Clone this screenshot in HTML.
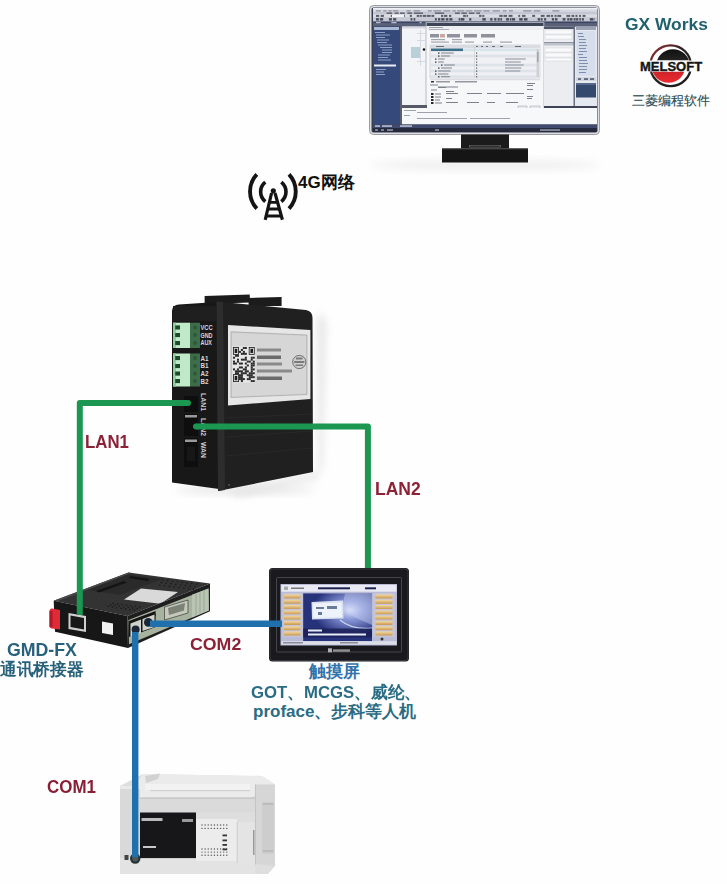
<!DOCTYPE html>
<html><head><meta charset="utf-8">
<style>
html,body{margin:0;padding:0;}
body{width:727px;height:884px;position:relative;overflow:hidden;background:#fefefe;font-family:"Liberation Sans",sans-serif;}
.a{position:absolute;}
.t{position:absolute;white-space:nowrap;font-weight:bold;line-height:1;transform-origin:0 0;}
</style></head><body>
<svg class="a" style="left:0;top:0" width="727" height="884" viewBox="0 0 727 884">
<defs>
  <linearGradient id="redG" x1="0" y1="0" x2="0" y2="1">
    <stop offset="0" stop-color="#8a1a1e"/><stop offset="1" stop-color="#ee2a30"/>
  </linearGradient>
  <linearGradient id="blkG" x1="0" y1="0" x2="0" y2="1">
    <stop offset="0" stop-color="#101010"/><stop offset="1" stop-color="#4a4a4a"/>
  </linearGradient>
  <linearGradient id="shadowG" x1="0" y1="0" x2="0" y2="1">
    <stop offset="0" stop-color="#e6e6e6"/><stop offset="1" stop-color="#fdfdfd"/>
  </linearGradient>
  <filter id="soft" x="-5%" y="-5%" width="110%" height="110%"><feGaussianBlur stdDeviation="0.45"/></filter>
  <filter id="shBlur" x="-50%" y="-50%" width="200%" height="200%"><feGaussianBlur stdDeviation="4"/></filter>
</defs>
<g id="monitor">
  <!-- soft shadow under base -->
  <ellipse cx="485" cy="165" rx="115" ry="5" fill="#eeeeee" filter="url(#shBlur)"/>
  <!-- bezel -->
  <rect x="369.5" y="5.5" width="230" height="129" rx="4" fill="#dcdde0" stroke="#9a9ca2" stroke-width="1"/>
  <rect x="371.5" y="7.5" width="226" height="125" rx="2" fill="#3a3f50"/>
  <g filter="url(#soft)"><!-- screen -->
<rect x="373" y="8" width="224" height="16" fill="#c9ccd6"/><rect x="373" y="8" width="224" height="1.8" fill="#eef0f4"/><rect x="373" y="9.8" width="224" height="2.2" fill="#d3d6de"/><g fill="#8a8e9a"><rect x="376.0" y="10.3" width="4.9" height="1.2"/><rect x="383.2" y="10.3" width="3.4" height="1.2"/><rect x="388.4" y="10.3" width="3.3" height="1.2"/><rect x="392.8" y="10.3" width="5.6" height="1.2"/><rect x="406.4" y="10.3" width="4.3" height="1.2"/><rect x="413.6" y="10.3" width="6.5" height="1.2"/><rect x="427.9" y="10.3" width="3.9" height="1.2"/><rect x="433.4" y="10.3" width="7.9" height="1.2"/><rect x="443.5" y="10.3" width="6.8" height="1.2"/><rect x="452.4" y="10.3" width="3.4" height="1.2"/><rect x="457.2" y="10.3" width="7.1" height="1.2"/><rect x="465.9" y="10.3" width="6.5" height="1.2"/><rect x="474.0" y="10.3" width="7.8" height="1.2"/><rect x="483.3" y="10.3" width="6.4" height="1.2"/><rect x="492.5" y="10.3" width="7.4" height="1.2"/><rect x="502.8" y="10.3" width="3.7" height="1.2"/><rect x="509.0" y="10.3" width="3.9" height="1.2"/><rect x="523.2" y="10.3" width="8.3" height="1.2"/><rect x="533.8" y="10.3" width="6.6" height="1.2"/><rect x="552.3" y="10.3" width="7.0" height="1.2"/></g><rect x="373" y="12" width="224" height="2.3" fill="#c4c7d1"/><g fill="#50545e"><rect x="386.5" y="12.5" width="5.7" height="1.3"/><rect x="394.6" y="12.5" width="4.1" height="1.3"/><rect x="400.0" y="12.5" width="4.7" height="1.3"/><rect x="407.3" y="12.5" width="4.8" height="1.3"/><rect x="413.8" y="12.5" width="9.2" height="1.3"/><rect x="434.9" y="12.5" width="9.2" height="1.3"/><rect x="455.0" y="12.5" width="4.9" height="1.3"/><rect x="461.4" y="12.5" width="5.4" height="1.3"/><rect x="468.9" y="12.5" width="5.6" height="1.3"/><rect x="476.3" y="12.5" width="3.7" height="1.3"/></g><rect x="373" y="14.3" width="224" height="3.1" fill="#d9dce3"/><g fill="#5a5e6a"><rect x="376.0" y="14.9" width="3.2" height="2"/><rect x="380.7" y="14.9" width="3.2" height="2"/><rect x="390.8" y="14.9" width="2.5" height="2"/><rect x="394.0" y="14.9" width="3.1" height="2"/><rect x="397.7" y="14.9" width="2.0" height="2"/><rect x="400.7" y="14.9" width="1.6" height="2"/><rect x="403.1" y="14.9" width="1.8" height="2"/><rect x="409.8" y="14.9" width="2.1" height="2"/><rect x="416.7" y="14.9" width="2.7" height="2"/><rect x="420.0" y="14.9" width="1.8" height="2"/><rect x="422.7" y="14.9" width="3.6" height="2"/><rect x="426.8" y="14.9" width="3.9" height="2"/><rect x="431.4" y="14.9" width="2.9" height="2"/><rect x="441.0" y="14.9" width="2.2" height="2"/><rect x="443.9" y="14.9" width="3.4" height="2"/><rect x="449.0" y="14.9" width="2.3" height="2"/><rect x="463.1" y="14.9" width="2.8" height="2"/><rect x="466.5" y="14.9" width="1.6" height="2"/><rect x="479.1" y="14.9" width="2.4" height="2"/><rect x="482.3" y="14.9" width="2.0" height="2"/><rect x="499.3" y="14.9" width="3.4" height="2"/><rect x="503.5" y="14.9" width="3.5" height="2"/><rect x="508.6" y="14.9" width="3.9" height="2"/><rect x="518.3" y="14.9" width="1.8" height="2"/><rect x="522.0" y="14.9" width="3.5" height="2"/><rect x="532.2" y="14.9" width="2.9" height="2"/><rect x="540.8" y="14.9" width="3.8" height="2"/><rect x="546.5" y="14.9" width="3.6" height="2"/><rect x="550.9" y="14.9" width="2.2" height="2"/><rect x="554.5" y="14.9" width="2.1" height="2"/><rect x="557.4" y="14.9" width="3.8" height="2"/><rect x="566.4" y="14.9" width="3.8" height="2"/><rect x="571.5" y="14.9" width="2.8" height="2"/><rect x="575.5" y="14.9" width="2.0" height="2"/><rect x="579.1" y="14.9" width="1.9" height="2"/><rect x="582.6" y="14.9" width="2.9" height="2"/></g><rect x="392" y="14.6" width="12" height="2.4" fill="#f4f5f8"/><rect x="373" y="17.4" width="224" height="4" fill="#c6c9d4"/><g fill="#4a4e5c"><rect x="376.0" y="18.1" width="2.9" height="2.5"/><rect x="379.8" y="18.1" width="3.4" height="2.5"/><rect x="388.9" y="18.1" width="3.0" height="2.5"/><rect x="393.1" y="18.1" width="3.2" height="2.5"/><rect x="410.6" y="18.1" width="1.8" height="2.5"/><rect x="413.6" y="18.1" width="1.7" height="2.5"/><rect x="434.9" y="18.1" width="1.9" height="2.5"/><rect x="438.0" y="18.1" width="2.3" height="2.5"/><rect x="441.2" y="18.1" width="3.3" height="2.5"/><rect x="445.8" y="18.1" width="2.6" height="2.5"/><rect x="449.3" y="18.1" width="3.1" height="2.5"/><rect x="458.7" y="18.1" width="1.8" height="2.5"/><rect x="461.0" y="18.1" width="3.4" height="2.5"/><rect x="469.2" y="18.1" width="2.1" height="2.5"/><rect x="482.3" y="18.1" width="3.5" height="2.5"/><rect x="490.2" y="18.1" width="2.3" height="2.5"/><rect x="494.2" y="18.1" width="2.2" height="2.5"/><rect x="497.6" y="18.1" width="2.1" height="2.5"/><rect x="500.4" y="18.1" width="1.6" height="2.5"/><rect x="506.1" y="18.1" width="2.8" height="2.5"/><rect x="509.8" y="18.1" width="1.5" height="2.5"/><rect x="511.8" y="18.1" width="3.3" height="2.5"/><rect x="519.2" y="18.1" width="3.5" height="2.5"/><rect x="523.9" y="18.1" width="3.6" height="2.5"/><rect x="537.7" y="18.1" width="2.5" height="2.5"/><rect x="540.8" y="18.1" width="1.8" height="2.5"/><rect x="544.1" y="18.1" width="2.1" height="2.5"/><rect x="551.8" y="18.1" width="2.2" height="2.5"/><rect x="554.9" y="18.1" width="2.6" height="2.5"/><rect x="562.6" y="18.1" width="2.9" height="2.5"/><rect x="567.2" y="18.1" width="2.3" height="2.5"/><rect x="570.0" y="18.1" width="2.5" height="2.5"/><rect x="573.6" y="18.1" width="2.0" height="2.5"/><rect x="576.1" y="18.1" width="2.2" height="2.5"/><rect x="579.3" y="18.1" width="1.6" height="2.5"/><rect x="581.8" y="18.1" width="2.1" height="2.5"/><rect x="589.8" y="18.1" width="3.7" height="2.5"/><rect x="594.5" y="18.1" width="0.5" height="2.5"/></g><rect x="373" y="21.4" width="224" height="2.4" fill="#3e4462"/><g fill="#b4bad0"><rect x="376.0" y="21.9" width="4.6" height="1.4"/><rect x="391.3" y="21.9" width="5.2" height="1.4"/><rect x="419.5" y="21.9" width="2.1" height="1.4"/><rect x="434.7" y="21.9" width="4.0" height="1.4"/><rect x="448.4" y="21.9" width="4.6" height="1.4"/><rect x="455.5" y="21.9" width="3.0" height="1.4"/><rect x="460.0" y="21.9" width="4.9" height="1.4"/><rect x="467.4" y="21.9" width="2.6" height="1.4"/></g><rect x="373" y="23.8" width="224" height="2.7" fill="#5a6078"/>
  <!-- nav panel -->
  <rect x="373" y="26.5" width="27" height="98" fill="#34497a"/>
  <rect x="374" y="27" width="25" height="3" fill="#a9b9d6"/>
  <g fill="#8ea0c4">
    <rect x="375" y="32" width="10" height="1"/><rect x="376" y="34.5" width="14" height="1"/><rect x="376" y="37" width="9" height="1"/>
    <rect x="377" y="39.5" width="12" height="1"/><rect x="377" y="42" width="10" height="1"/><rect x="378" y="44.5" width="14" height="1"/>
    <rect x="380" y="47" width="12" height="1"/><rect x="382" y="49.5" width="10" height="1"/><rect x="382" y="52" width="10" height="1"/>
    <rect x="378" y="54.5" width="12" height="1"/><rect x="378" y="57" width="10" height="1"/><rect x="378" y="59.5" width="13" height="1"/>
    <rect x="376" y="69" width="10" height="1"/><rect x="376" y="71.5" width="8" height="1"/><rect x="376" y="74" width="9" height="1"/>
  </g>
  <rect x="374" y="64.5" width="22" height="2" fill="#e8edf6"/>
  <rect x="400" y="26.5" width="2" height="98" fill="#5a5f70"/>
  <!-- workspace -->
  <rect x="402" y="26.5" width="25" height="80" fill="#f3f4f7"/>
  <rect x="402" y="26.5" width="25" height="2" fill="#d5d8e0"/>
  <rect x="411" y="47" width="9" height="11" fill="#b9cfd9"/>
  <circle cx="424" cy="49.5" r="1.3" fill="#111"/>
  <g fill="#cfd2da"><rect x="420" y="30" width="0.8" height="36"/><rect x="417" y="33" width="8" height="0.8"/><rect x="417" y="40" width="8" height="0.8"/><rect x="417" y="61" width="8" height="0.8"/></g>
  <!-- dialog -->
  <rect x="426" y="22.5" width="118" height="88" fill="#f6f7f9" stroke="#a8adb6" stroke-width="0.8"/>
  <rect x="426.5" y="23" width="117" height="3" fill="#3e4456"/>
  <rect x="427" y="26" width="116" height="4" fill="#eceef2"/>
  <g fill="#9a9ea8"><rect x="429" y="27" width="14" height="1"/><rect x="429" y="29" width="20" height="0.8"/></g>
  <!-- toolbar buttons -->
  <g fill="#8f929a">
    <rect x="430" y="34" width="9" height="3.5"/><rect x="447" y="34" width="13" height="3.5"/><rect x="464" y="34" width="13" height="3.5"/><rect x="481" y="34" width="14" height="3.5"/>
  </g>
  <g fill="#c9a9a0"><rect x="440" y="34" width="5" height="3.5"/></g>
  <g fill="#a0a4ac">
    <rect x="431" y="39" width="14" height="1.2"/><rect x="452" y="39" width="10" height="1.2"/>
    <rect x="431" y="41.5" width="18" height="1.2"/><rect x="452" y="41.5" width="10" height="1.2"/><rect x="465" y="41.5" width="9" height="1.2"/><rect x="483" y="41.5" width="9" height="1.2"/><rect x="500" y="41.5" width="12" height="1.2"/>
  </g>
  <!-- table -->
  <rect x="430" y="45" width="110" height="33" fill="#f0f1f4" stroke="#b8bcc4" stroke-width="0.5"/>
  <rect x="430" y="45" width="110" height="3" fill="#d9dce3"/>
  <g fill="#6a6e78"><rect x="436" y="46" width="8" height="1"/><rect x="476" y="46" width="2" height="1"/><rect x="481" y="46" width="2" height="1"/><rect x="486" y="46" width="2" height="1"/><rect x="492" y="46" width="3" height="1"/><rect x="500" y="46" width="3" height="1"/><rect x="515" y="46" width="6" height="1"/></g>
  <rect x="431" y="48.5" width="32" height="2.6" fill="#3b6d88"/>
  <rect x="463" y="48.5" width="75" height="2.6" fill="#d8e4ea"/>
  <rect x="438" y="52.5" width="1.5" height="1.2" fill="#333"/>
  <rect x="441" y="52.5" width="12.8" height="1" fill="#7d818b"/>
  <rect x="476" y="52.5" width="1.2" height="1.2" fill="#555"/>
  <rect x="431" y="54.6" width="107" height="2.8" fill="#dfe3ea"/>
  <rect x="438" y="55.5" width="1.5" height="1.2" fill="#333"/>
  <rect x="441" y="55.5" width="9.1" height="1" fill="#7d818b"/>
  <rect x="476" y="55.5" width="1.2" height="1.2" fill="#555"/>
  <rect x="435" y="58.5" width="1.5" height="1.2" fill="#333"/>
  <rect x="438" y="58.5" width="6.7" height="1" fill="#7d818b"/>
  <rect x="476" y="58.5" width="1.2" height="1.2" fill="#555"/>
  <rect x="505" y="58.5" width="20.7" height="1" fill="#8a8e98"/>
  <rect x="435" y="61.5" width="1.5" height="1.2" fill="#333"/>
  <rect x="438" y="61.5" width="5.8" height="1" fill="#7d818b"/>
  <rect x="476" y="61.5" width="1.2" height="1.2" fill="#555"/>
  <rect x="505" y="61.5" width="15.8" height="1" fill="#8a8e98"/>
  <rect x="431" y="63.6" width="107" height="2.8" fill="#dfe3ea"/>
  <rect x="441" y="64.5" width="1.5" height="1.2" fill="#333"/>
  <rect x="444" y="64.5" width="10.7" height="1" fill="#7d818b"/>
  <rect x="476" y="64.5" width="1.2" height="1.2" fill="#555"/>
  <rect x="505" y="64.5" width="18.6" height="1" fill="#8a8e98"/>
  <rect x="438" y="67.5" width="1.5" height="1.2" fill="#333"/>
  <rect x="441" y="67.5" width="10.9" height="1" fill="#7d818b"/>
  <rect x="476" y="67.5" width="1.2" height="1.2" fill="#555"/>
  <rect x="505" y="67.5" width="16.4" height="1" fill="#8a8e98"/>
  <rect x="431" y="69.6" width="107" height="2.8" fill="#dfe3ea"/>
  <rect x="435" y="70.5" width="1.5" height="1.2" fill="#333"/>
  <rect x="438" y="70.5" width="12.5" height="1" fill="#7d818b"/>
  <rect x="476" y="70.5" width="1.2" height="1.2" fill="#555"/>
  <rect x="505" y="70.5" width="15.3" height="1" fill="#8a8e98"/>
  <rect x="435" y="73.5" width="1.5" height="1.2" fill="#333"/>
  <rect x="438" y="73.5" width="10.4" height="1" fill="#7d818b"/>
  <rect x="476" y="73.5" width="1.2" height="1.2" fill="#555"/>
  <rect x="431" y="75.3" width="107" height="2.8" fill="#dfe3ea"/>
  <rect x="438" y="76.2" width="1.5" height="1.2" fill="#333"/>
  <rect x="441" y="76.2" width="9.0" height="1" fill="#7d818b"/>
  <rect x="476" y="76.2" width="1.2" height="1.2" fill="#555"/>
  <rect x="474" y="45" width="0.6" height="33" fill="#c8ccd3"/>
  <rect x="536.5" y="49" width="2.5" height="28" fill="#cdd0d6"/>
  <rect x="537" y="52" width="1.5" height="10" fill="#9fa3aa"/>
  <!-- lower dialog -->
  <rect x="430" y="79.5" width="110" height="0.6" fill="#c0c4cc"/>
  <g fill="#7d818b"><rect x="431" y="81" width="3" height="1.5" fill="#333"/><rect x="436" y="81.2" width="14" height="1.2"/><rect x="455" y="81.2" width="22" height="1.2"/><rect x="430" y="84.5" width="8" height="1"/><rect x="438" y="86.5" width="8" height="1.5"/><rect x="446" y="86.5" width="12" height="1"/><rect x="431" y="89.5" width="6" height="1"/><rect x="446" y="91" width="8" height="1"/><rect x="446" y="93" width="12" height="1"/><rect x="467" y="93" width="15" height="1"/><rect x="487" y="93" width="14" height="1"/><rect x="506" y="93" width="18" height="1"/><rect x="446" y="98" width="6" height="1"/><rect x="446" y="102" width="12" height="1"/><rect x="467" y="102" width="12" height="1"/><rect x="487" y="102" width="8" height="1"/><rect x="506" y="102" width="12" height="1"/><rect x="527" y="83" width="8" height="1"/><rect x="527" y="85" width="6" height="1"/><rect x="527" y="89" width="6" height="1"/><rect x="527" y="96" width="6" height="1"/><rect x="527" y="98" width="5" height="1"/></g>
  <g fill="#2a2a2a"><rect x="431" y="93" width="2.5" height="2"/><rect x="431" y="96" width="2.5" height="2"/><rect x="431" y="99" width="2.5" height="2"/><rect x="431" y="102" width="2.5" height="2"/></g>
  <g fill="#7d818b"><rect x="435" y="93.5" width="6" height="1"/><rect x="435" y="96.5" width="6" height="1"/><rect x="435" y="99.5" width="5" height="1"/><rect x="435" y="102.5" width="7" height="1"/></g>
  <g fill="#e6e8ec" stroke="#8a8e96" stroke-width="0.4"><rect x="518" y="106" width="9" height="3"/><rect x="530" y="106" width="10" height="3"/></g>
  
  <!-- right panels -->
  <rect x="544" y="26.5" width="30" height="80" fill="#ecedf0"/>
  <rect x="544" y="26.5" width="30" height="2.5" fill="#50566a"/>
  <g fill="#fafafa" stroke="#c9ccd2" stroke-width="0.4"><rect x="545" y="30" width="27" height="4"/><rect x="545" y="35" width="27" height="4"/><rect x="545" y="48" width="27" height="4"/><rect x="545" y="53" width="27" height="4"/><rect x="545" y="58" width="27" height="3"/></g>
  <rect x="544" y="42" width="30" height="1.5" fill="#8f95a2"/>
  <rect x="544" y="44" width="30" height="1.5" fill="#bfc3cc"/>
  <rect x="573.5" y="26.5" width="1.5" height="80" fill="#6a6f80"/>
  <rect x="575" y="26.5" width="22" height="80" fill="#e6e9ef"/>
  <rect x="576" y="27" width="20" height="3" fill="#9aa2b4"/>
  <rect x="576.5" y="31" width="19" height="45" fill="#d6deeb"/>
  <g fill="#7f8eae"><rect x="578" y="33" width="5" height="1"/><rect x="578" y="36" width="6" height="1"/><rect x="579" y="39" width="7" height="1"/><rect x="579" y="42" width="7" height="1"/><rect x="579" y="45" width="8" height="1"/><rect x="579" y="48" width="7" height="1"/><rect x="579" y="51" width="8" height="1"/><rect x="578" y="54" width="5" height="1"/><rect x="579" y="57" width="8" height="1"/><rect x="579" y="60" width="8" height="1"/><rect x="579" y="63" width="9" height="1"/><rect x="579" y="66" width="8" height="1"/><rect x="579" y="69" width="8" height="1"/><rect x="579" y="72" width="7" height="1"/></g>
  <rect x="576" y="77" width="20" height="4" fill="#cfd4de"/>
  <g fill="#4a5068"><rect x="578" y="78.3" width="3" height="1.5"/><rect x="584" y="78.3" width="4" height="1.5"/><rect x="590" y="78.3" width="4" height="1.5"/></g>
  <rect x="576" y="83" width="20" height="14.5" fill="#34486e"/>
  <rect x="576" y="83" width="20" height="2" fill="#56688c"/>
  <rect x="576" y="98" width="20" height="8" fill="#e4e8f0"/>
  <!-- output pane -->
  <rect x="402" y="105" width="25" height="3" fill="#555a66"/>
  <rect x="402" y="108" width="195" height="16.5" fill="#f7f8fa"/>
  <rect x="544" y="106" width="53" height="2" fill="#3d4357"/>
  <g fill="#9ea2ab"><rect x="404" y="110" width="12" height="1"/><rect x="417" y="112" width="30" height="1"/><rect x="404" y="115" width="6" height="1"/><rect x="417" y="118" width="50" height="1"/><rect x="470" y="118" width="40" height="1"/></g>
  <!-- status bars -->
  <rect x="373" y="124.5" width="224" height="3.5" fill="#3f4a6e"/>
  <g fill="#c0c6d6"><rect x="375" y="125.3" width="5" height="1.5"/><rect x="382" y="125.3" width="10" height="1.5"/><rect x="400" y="125.3" width="12" height="1.5"/></g>
  <rect x="373" y="128" width="224" height="4" fill="#262b3e"/>
  <g fill="#9aa0b4"><rect x="375" y="129.3" width="3" height="1.5"/><rect x="381" y="129.3" width="3" height="1.5"/><rect x="387" y="129.3" width="6" height="1.5"/><rect x="435" y="129.3" width="4" height="1.5"/><rect x="540" y="129.3" width="20" height="1.5"/></g>
  </g>
  <!-- stand -->
  <polygon points="461,134.5 509,134.5 509,148.5 461,148.5" fill="#1b1b1b"/>
  <rect x="469" y="145" width="32" height="2.5" rx="1" fill="#6a6a6a"/>
  <rect x="470" y="145.5" width="30" height="1.5" rx="0.7" fill="#2e2e2e"/>
  <polygon points="442,148.5 528,148.5 528,162.5 442,162.5" fill="#151515"/>
  <rect x="442" y="148.5" width="86" height="1" fill="#3a3a3a"/>
</g>
<g id="melsoft">
  <defs>
    <linearGradient id="ringG" x1="0" y1="0" x2="1" y2="1">
      <stop offset="0" stop-color="#a03030"/><stop offset="0.45" stop-color="#2a2020"/><stop offset="1" stop-color="#1a1a1a"/>
    </linearGradient>
    <clipPath id="cTop"><rect x="640" y="40" width="70" height="20.5"/></clipPath>
    <clipPath id="cBot"><rect x="640" y="71.5" width="70" height="20"/></clipPath>
  </defs>
  <circle cx="670.6" cy="65.7" r="20.4" fill="none" stroke="url(#ringG)" stroke-width="2.3"/>
  <circle cx="673" cy="66" r="16.8" fill="url(#blkG)" clip-path="url(#cTop)"/>
  <circle cx="668.5" cy="66" r="16.8" fill="url(#redG)" clip-path="url(#cBot)"/>
  <rect x="646" y="60.5" width="50" height="11" fill="#fdfdfd"/>
</g>
<g id="ant" fill="none" stroke="#141414" stroke-linecap="butt">
  <path d="M256.8,174.4 A25,25 0 0 0 256.8,208.6" stroke-width="3.9"/>
  <path d="M265.3,182.1 A12.5,12.5 0 0 0 265.3,201.6" stroke-width="3.6"/>
  <path d="M289,174.4 A25,25 0 0 1 289,208.6" stroke-width="3.9"/>
  <path d="M281.3,182.1 A12.5,12.5 0 0 1 281.3,201.6" stroke-width="3.6"/>
  <circle cx="273.3" cy="190.8" r="2.6" fill="#141414" stroke="none"/>
  <path d="M271.6,193 L265.2,219.8 M275,193 L282.4,219.8" stroke-width="3.2"/>
  <path d="M268.6,202.4 L278.2,202.4 M267.2,209 L279.8,209 M265.8,216 L281.2,216" stroke-width="2.8"/>
</g>
<g id="gw">
  <polygon points="225,492 313,474 322,470 325,320 318,312 318,478 240,496" fill="#d8d8d8" filter="url(#shBlur)" opacity="0.8"/>
  <ellipse cx="245" cy="490" rx="70" ry="4" fill="#e6e6e6" filter="url(#shBlur)"/>
  <!-- top clips -->
  <polygon points="204.6,296 249.7,294.5 250,302.6 204.6,304" fill="#1c1c1c"/>
  <polygon points="248.6,298 281.6,297 281.6,306 248.6,306" fill="#1c1c1c"/>
  <!-- left narrow part -->
  <path d="M172,311 Q172.5,304.8 179,304.5 L217,302 L219,489 L172,482.5 Z" fill="#181818"/>
  <rect x="173" y="306" width="43" height="15" fill="#1f1f1f"/>
  <!-- front face -->
  <path d="M216.5,301.5 L306,310 Q312.5,311 312.5,318 L313,472 L218,491 Z" fill="#202020"/>
  <polygon points="216.5,301.5 223,302 225,490 218,491" fill="#2d2d2d"/>
  <g stroke="#2b2b2b" stroke-width="0.8">
    <line x1="226" y1="418" x2="312" y2="414"/><line x1="226" y1="437" x2="312" y2="431"/><line x1="226" y1="456" x2="312" y2="448"/>
  </g>
  <circle cx="229" cy="485" r="1" fill="#555"/>
  <!-- label plate -->
  <polygon points="228,325 310.4,330 310.4,399 228,405.4" fill="#e6e6e6"/>
  <polygon points="231,331.8 307,335 307,394.5 231,397.5" fill="#cfcfcf" stroke="#9a9a9a" stroke-width="0.6"/>
  <polygon points="232,333 306,336 306,393.5 232,396.5" fill="#d6d6d6"/>
  <rect x="232.5" y="346.5" width="22.7" height="36" fill="#e8e8e8"/>
<g fill="#2a2a2a"><rect x="242.86" y="347.00" width="2.02" height="1.99"/><rect x="244.84" y="347.00" width="2.02" height="1.99"/><rect x="240.89" y="348.94" width="2.02" height="1.99"/><rect x="238.92" y="350.89" width="2.02" height="1.99"/><rect x="242.86" y="350.89" width="2.02" height="1.99"/><rect x="240.89" y="352.83" width="2.02" height="1.99"/><rect x="242.86" y="352.83" width="2.02" height="1.99"/><rect x="244.84" y="352.83" width="2.02" height="1.99"/><rect x="234.97" y="354.78" width="2.02" height="1.99"/><rect x="236.95" y="354.78" width="2.02" height="1.99"/><rect x="233.00" y="356.72" width="2.02" height="1.99"/><rect x="244.84" y="356.72" width="2.02" height="1.99"/><rect x="250.75" y="356.72" width="2.02" height="1.99"/><rect x="252.73" y="356.72" width="2.02" height="1.99"/><rect x="236.95" y="358.67" width="2.02" height="1.99"/><rect x="240.89" y="358.67" width="2.02" height="1.99"/><rect x="242.86" y="358.67" width="2.02" height="1.99"/><rect x="244.84" y="358.67" width="2.02" height="1.99"/><rect x="250.75" y="358.67" width="2.02" height="1.99"/><rect x="233.00" y="360.61" width="2.02" height="1.99"/><rect x="236.95" y="360.61" width="2.02" height="1.99"/><rect x="246.81" y="360.61" width="2.02" height="1.99"/><rect x="248.78" y="360.61" width="2.02" height="1.99"/><rect x="252.73" y="360.61" width="2.02" height="1.99"/><rect x="233.00" y="362.56" width="2.02" height="1.99"/><rect x="234.97" y="362.56" width="2.02" height="1.99"/><rect x="238.92" y="362.56" width="2.02" height="1.99"/><rect x="240.89" y="362.56" width="2.02" height="1.99"/><rect x="244.84" y="362.56" width="2.02" height="1.99"/><rect x="250.75" y="362.56" width="2.02" height="1.99"/><rect x="252.73" y="362.56" width="2.02" height="1.99"/><rect x="246.81" y="364.50" width="2.02" height="1.99"/><rect x="250.75" y="364.50" width="2.02" height="1.99"/><rect x="252.73" y="364.50" width="2.02" height="1.99"/><rect x="238.92" y="366.44" width="2.02" height="1.99"/><rect x="240.89" y="366.44" width="2.02" height="1.99"/><rect x="244.84" y="366.44" width="2.02" height="1.99"/><rect x="250.75" y="366.44" width="2.02" height="1.99"/><rect x="233.00" y="368.39" width="2.02" height="1.99"/><rect x="236.95" y="368.39" width="2.02" height="1.99"/><rect x="242.86" y="368.39" width="2.02" height="1.99"/><rect x="244.84" y="368.39" width="2.02" height="1.99"/><rect x="250.75" y="368.39" width="2.02" height="1.99"/><rect x="252.73" y="368.39" width="2.02" height="1.99"/><rect x="234.97" y="370.33" width="2.02" height="1.99"/><rect x="236.95" y="370.33" width="2.02" height="1.99"/><rect x="238.92" y="370.33" width="2.02" height="1.99"/><rect x="240.89" y="370.33" width="2.02" height="1.99"/><rect x="244.84" y="370.33" width="2.02" height="1.99"/><rect x="246.81" y="370.33" width="2.02" height="1.99"/><rect x="250.75" y="370.33" width="2.02" height="1.99"/><rect x="234.97" y="372.28" width="2.02" height="1.99"/><rect x="236.95" y="372.28" width="2.02" height="1.99"/><rect x="240.89" y="372.28" width="2.02" height="1.99"/><rect x="242.86" y="372.28" width="2.02" height="1.99"/><rect x="244.84" y="372.28" width="2.02" height="1.99"/><rect x="248.78" y="372.28" width="2.02" height="1.99"/><rect x="250.75" y="372.28" width="2.02" height="1.99"/><rect x="252.73" y="372.28" width="2.02" height="1.99"/><rect x="238.92" y="374.22" width="2.02" height="1.99"/><rect x="240.89" y="374.22" width="2.02" height="1.99"/><rect x="246.81" y="374.22" width="2.02" height="1.99"/><rect x="248.78" y="374.22" width="2.02" height="1.99"/><rect x="250.75" y="374.22" width="2.02" height="1.99"/><rect x="238.92" y="376.17" width="2.02" height="1.99"/><rect x="240.89" y="376.17" width="2.02" height="1.99"/><rect x="248.78" y="376.17" width="2.02" height="1.99"/><rect x="250.75" y="376.17" width="2.02" height="1.99"/><rect x="252.73" y="376.17" width="2.02" height="1.99"/><rect x="238.92" y="378.11" width="2.02" height="1.99"/><rect x="240.89" y="378.11" width="2.02" height="1.99"/><rect x="242.86" y="378.11" width="2.02" height="1.99"/><rect x="246.81" y="378.11" width="2.02" height="1.99"/><rect x="248.78" y="378.11" width="2.02" height="1.99"/><rect x="240.89" y="380.06" width="2.02" height="1.99"/><rect x="250.75" y="380.06" width="2.02" height="1.99"/><rect x="252.73" y="380.06" width="2.02" height="1.99"/></g><rect x="233.00" y="347.00" width="5.92" height="7.78" fill="#1a1a1a"/><rect x="233.80" y="347.80" width="4.32" height="6.18" fill="#dcdcdc"/><rect x="234.70" y="348.80" width="2.52" height="4.18" fill="#1a1a1a"/><rect x="248.78" y="347.00" width="5.92" height="7.78" fill="#1a1a1a"/><rect x="249.58" y="347.80" width="4.32" height="6.18" fill="#dcdcdc"/><rect x="250.48" y="348.80" width="2.52" height="4.18" fill="#1a1a1a"/><rect x="233.00" y="374.22" width="5.92" height="7.78" fill="#1a1a1a"/><rect x="233.80" y="375.02" width="4.32" height="6.18" fill="#dcdcdc"/><rect x="234.70" y="376.02" width="2.52" height="4.18" fill="#1a1a1a"/>

  <!-- text lines -->
  <g fill="#8a8a8a">
    <rect x="257" y="348.5" width="24" height="3"/>
    <rect x="257" y="355.5" width="24" height="3.5" fill="#6a6a6a"/>
    <rect x="257" y="362.5" width="25" height="3"/>
    <rect x="257" y="369.5" width="35" height="3"/>
    <rect x="257" y="376.5" width="25" height="3.5" fill="#6a6a6a"/>
  </g>
  <circle cx="299.3" cy="362" r="6.6" fill="#d0d0d0" stroke="#6e6e6e" stroke-width="1"/>
  <g fill="#7a7a7a"><rect x="296" y="357.5" width="6.5" height="2"/><rect x="294.2" y="361" width="10.2" height="2"/><rect x="295.5" y="364.5" width="7.6" height="1.5"/></g>
  <!-- terminal blocks -->
  <rect x="173" y="322.7" width="17" height="25.3" fill="#bfe9c8"/>
  <rect x="173" y="322.7" width="3" height="25.3" fill="#8fcf9f"/>
  <rect x="190" y="322.7" width="10" height="25.3" fill="#3e6d49"/>
  <rect x="173" y="353.5" width="17" height="33" fill="#bfe9c8"/>
  <rect x="173" y="353.5" width="3" height="33" fill="#8fcf9f"/>
  <rect x="190" y="353.5" width="10" height="33" fill="#3e6d49"/>
  <g fill="#1f4a2a">
    <rect x="175.2" y="325.4" width="4.8" height="4.1"/><rect x="175.2" y="333" width="4.8" height="4.1"/><rect x="175.2" y="341" width="4.8" height="4.1"/>
    <rect x="175.2" y="356" width="4.8" height="4.1"/><rect x="175.2" y="364" width="4.8" height="4.1"/><rect x="175.2" y="371.5" width="4.8" height="4.1"/><rect x="175.2" y="379" width="4.8" height="4.1"/>
  </g>
  <g fill="#2e5838">
    <circle cx="195" cy="327.5" r="2"/><circle cx="195" cy="335" r="2"/><circle cx="195" cy="343" r="2"/>
    <circle cx="195" cy="358" r="2"/><circle cx="195" cy="366" r="2"/><circle cx="195" cy="373.5" r="2"/><circle cx="195" cy="381" r="2"/>
  </g>
  <g font-family="Liberation Sans" font-weight="bold" font-size="7" fill="#d8d8d8">
    <text x="200.5" y="330" textLength="12" lengthAdjust="spacingAndGlyphs">VCC</text>
    <text x="200.5" y="337.6" textLength="12" lengthAdjust="spacingAndGlyphs">GND</text>
    <text x="200.5" y="345.3" textLength="11.5" lengthAdjust="spacingAndGlyphs">AUX</text>
    <text x="200.5" y="360.5" textLength="8" lengthAdjust="spacingAndGlyphs">A1</text>
    <text x="200.5" y="368.2" textLength="8" lengthAdjust="spacingAndGlyphs">B1</text>
    <text x="200.5" y="375.8" textLength="8" lengthAdjust="spacingAndGlyphs">A2</text>
    <text x="200.5" y="383.5" textLength="8" lengthAdjust="spacingAndGlyphs">B2</text>
  </g>
  <g font-family="Liberation Sans" font-weight="bold" font-size="7" fill="#cfcfcf">
    <text transform="translate(201,393) rotate(90)" textLength="18" lengthAdjust="spacingAndGlyphs">LAN1</text>
    <text transform="translate(201,418) rotate(90)" textLength="18" lengthAdjust="spacingAndGlyphs">LAN2</text>
    <text transform="translate(201,442) rotate(90)" textLength="16" lengthAdjust="spacingAndGlyphs">WAN</text>
  </g>
  <!-- ports -->
  <rect x="184" y="396" width="14" height="16" fill="#0e0e0e"/>
  <rect x="184" y="414" width="14" height="22" fill="#0e0e0e"/>
  <rect x="185" y="415" width="12" height="2.5" fill="#9a9a9a"/>
  <rect x="184" y="438" width="14" height="29" fill="#0e0e0e"/>
  <rect x="185" y="439.5" width="12" height="2.5" fill="#9a9a9a"/>
  <rect x="187" y="447" width="8" height="14" fill="#171717"/>
</g>
<g id="gmd">
  <!-- top face -->
  <polygon points="53.7,600.8 128.5,572.4 210,583.5 127.4,616" fill="#333333"/>
  <polygon points="53.7,600.8 128.5,572.4 131,573 57,601.5" fill="#4a4a4a"/>
  <!-- raised back part / slots -->
  <polygon points="88,590 128.5,574.5 162,579 120,595" fill="#2a2a2a"/>
  <polygon points="96,591 124,581 127,582.5 99,592.5" fill="#141414"/>
  <polygon points="130,576 149,579 148,581 129,578" fill="#141414"/>
  <!-- label -->
  <polygon points="124,599.6 141,588.6 178,592 160.4,603.7" fill="#d9d9d9"/>
  <g fill="#1a1a1a"><circle cx="108.0" cy="606.5" r="0.8"/><circle cx="112.4" cy="607.1" r="0.8"/><circle cx="116.8" cy="607.7" r="0.8"/><circle cx="121.2" cy="608.3" r="0.8"/><circle cx="125.6" cy="608.9" r="0.8"/><circle cx="130.0" cy="609.5" r="0.8"/><circle cx="134.4" cy="610.1" r="0.8"/><circle cx="110.6" cy="604.9" r="0.8"/><circle cx="115.0" cy="605.5" r="0.8"/><circle cx="119.4" cy="606.1" r="0.8"/><circle cx="123.8" cy="606.7" r="0.8"/><circle cx="128.2" cy="607.3" r="0.8"/><circle cx="132.6" cy="607.9" r="0.8"/><circle cx="137.0" cy="608.5" r="0.8"/><circle cx="113.2" cy="603.3" r="0.8"/><circle cx="117.6" cy="603.9" r="0.8"/><circle cx="122.0" cy="604.5" r="0.8"/><circle cx="126.4" cy="605.1" r="0.8"/><circle cx="130.8" cy="605.7" r="0.8"/><circle cx="135.2" cy="606.3" r="0.8"/><circle cx="139.6" cy="606.9" r="0.8"/><circle cx="163.0" cy="580.0" r="0.8"/><circle cx="167.8" cy="580.6" r="0.8"/><circle cx="172.6" cy="581.2" r="0.8"/><circle cx="177.4" cy="581.8" r="0.8"/><circle cx="182.2" cy="582.4" r="0.8"/><circle cx="187.0" cy="583.0" r="0.8"/><circle cx="191.8" cy="583.6" r="0.8"/><circle cx="196.6" cy="584.2" r="0.8"/><circle cx="161.4" cy="582.6" r="0.8"/><circle cx="166.2" cy="583.2" r="0.8"/><circle cx="171.0" cy="583.8" r="0.8"/><circle cx="175.8" cy="584.4" r="0.8"/><circle cx="180.6" cy="585.0" r="0.8"/><circle cx="185.4" cy="585.6" r="0.8"/><circle cx="190.2" cy="586.2" r="0.8"/><circle cx="195.0" cy="586.8" r="0.8"/><circle cx="159.8" cy="585.2" r="0.8"/><circle cx="164.6" cy="585.8" r="0.8"/><circle cx="169.4" cy="586.4" r="0.8"/><circle cx="174.2" cy="587.0" r="0.8"/><circle cx="179.0" cy="587.6" r="0.8"/><circle cx="183.8" cy="588.2" r="0.8"/><circle cx="188.6" cy="588.8" r="0.8"/><circle cx="193.4" cy="589.4" r="0.8"/></g>
  <!-- left face -->
  <polygon points="53.7,600.8 127.4,616 128,648 55,631.8" fill="#171717"/>
  <!-- right face -->
  <polygon points="127.4,616 210,583.5 210,611.3 128,648" fill="#1e1e1e"/>
  <polygon points="128.5,620 208.5,588.6 208.8,610.5 129,644.3" fill="#a7b39f"/>
  <polygon points="192,594.8 208.5,588.6 208.8,610.5 192,617.6" fill="#b9c4b2"/>
  <g stroke="#7f8f79" stroke-width="0.5"><line x1="196" y1="593.5" x2="196" y2="616"/><line x1="200" y1="592" x2="200" y2="614.3"/><line x1="204" y1="590.5" x2="204" y2="612.6"/></g>
  <!-- red tab -->
  <path d="M60,610 L52,608.5 Q49.5,608.5 49.5,611.5 L49.5,625.5 Q49.5,628.5 52,628.5 L60,629.5 Z" fill="#e02a38"/>
  <rect x="49.5" y="611" width="3" height="16" fill="#b01a28"/>
  <!-- RJ45 -->
  <polygon points="68.5,613 86,616 86,632 68.5,629" fill="#cfcfcf"/>
  <polygon points="70.5,615.5 84,618 84,629.5 70.5,627" fill="#181818"/>
  <!-- usb white -->
  <polygon points="102,621.5 113,623.5 113,635 102,633" fill="#f2f2f2"/>
  <!-- round ports frame -->
  <polygon points="128.8,625 155.6,614 155.6,627 128.8,637" fill="#151515"/>
  <polygon points="128.8,621 155.6,611 155.6,616 128.8,626" fill="#151515"/>
  <polygon points="130.5,623.5 141,619.5 141,633 130.5,636.5" fill="#cfd3cc"/>
  <polygon points="142.5,619 154.5,614.5 154.5,627 142.5,631" fill="#cfd3cc"/>
  <circle cx="135.6" cy="629.4" r="4" fill="#1c2636"/>
  <circle cx="148.3" cy="622.4" r="4.3" fill="#1c2636"/>
  <!-- DB9 -->
  <polygon points="164.5,607 188,600 188,613 164.5,620" fill="#c5c8bb" stroke="#4a4a4a" stroke-width="0.8"/>
  <polygon points="168,608 185,603 184,610.5 169,615" fill="#7c8276"/>
</g>
<g id="hmi">
  <defs>
    <radialGradient id="hmiGlow" cx="0.68" cy="0.35" r="0.55">
      <stop offset="0" stop-color="#dfe6fa"/><stop offset="0.35" stop-color="#8a98d8"/><stop offset="1" stop-color="#25307a"/>
    </radialGradient>
    <linearGradient id="btnG" x1="0" y1="0" x2="0" y2="1"><stop offset="0" stop-color="#f2d9a2"/><stop offset="1" stop-color="#c99a52"/></linearGradient>
  </defs>
  <rect x="269" y="568" width="140" height="93.5" rx="3.5" fill="#1a1a1e"/>
  <rect x="270" y="569" width="138" height="91.5" rx="3" fill="none" stroke="#3c3c42" stroke-width="0.8"/>
  <rect x="276.5" y="577.5" width="125" height="74.5" rx="1" fill="none" stroke="#505058" stroke-width="0.8"/>
  <g filter="url(#soft)"><rect x="280.5" y="584" width="116.5" height="61.5" fill="#b9bcd6"/>
  <rect x="281.4" y="585" width="115" height="6.7" fill="#eaeaf4"/>
  <g fill="#3a3a5a"><rect x="284" y="586.5" width="4" height="3.5" fill="#aaa"/><rect x="291" y="587.5" width="13" height="1.5" fill="#777"/><rect x="318" y="587.3" width="32" height="2" fill="#1e2450"/><rect x="365" y="587.3" width="11" height="2" fill="#1e2450"/></g>
  <rect x="282.5" y="593" width="20" height="44" fill="#c6c4d4"/>
  <g fill="url(#btnG)"><rect x="284" y="594.5" width="16.5" height="3.9" rx="0.6"/><rect x="284" y="599.8" width="16.5" height="3.9" rx="0.6"/><rect x="284" y="605.1" width="16.5" height="3.9" rx="0.6"/><rect x="284" y="610.4" width="16.5" height="3.9" rx="0.6"/><rect x="284" y="615.7" width="16.5" height="3.9" rx="0.6"/><rect x="284" y="621.0" width="16.5" height="3.9" rx="0.6"/><rect x="284" y="626.3" width="16.5" height="3.9" rx="0.6"/><rect x="284" y="631.6" width="16.5" height="3.9" rx="0.6"/></g>
  <rect x="303.2" y="593.4" width="68.8" height="47.8" fill="url(#hmiGlow)"/>
  <polygon points="345,593.4 372,593.4 372,625 356,618 342,608" fill="#c8d0f4" opacity="0.45"/>
  <polygon points="311.5,602 343,600.5 343.5,618.5 312,619.5" fill="#d8e0f0"/>
  <polygon points="313,603.5 341.5,602.5 342,617 313.5,618" fill="#eef2fa"/>
  <g fill="#6a7a9a"><rect x="316" y="607" width="8" height="2"/><rect x="327" y="606" width="10" height="3"/><rect x="318" y="612" width="4" height="3"/></g>
  <path d="M340,620 Q352,630 372,628" stroke="#c8d4f0" stroke-width="1.2" fill="none"/>
  <rect x="303.2" y="628.5" width="68.8" height="9" fill="#1c2258" opacity="0.85"/>
  <g fill="#e8ecf8"><rect x="308" y="629.5" width="14" height="2"/><rect x="308" y="633.5" width="58" height="2"/></g>
  <rect x="373" y="593" width="22" height="44" fill="#c6c4d4"/>
  <g fill="url(#btnG)"><rect x="375.5" y="594.5" width="17" height="3.9" rx="0.6"/><rect x="375.5" y="599.8" width="17" height="3.9" rx="0.6"/><rect x="375.5" y="605.1" width="17" height="3.9" rx="0.6"/><rect x="375.5" y="610.4" width="17" height="3.9" rx="0.6"/><rect x="375.5" y="615.7" width="17" height="3.9" rx="0.6"/><rect x="375.5" y="621.0" width="17" height="3.9" rx="0.6"/><rect x="375.5" y="626.3" width="17" height="3.9" rx="0.6"/><rect x="375.5" y="631.6" width="17" height="3.9" rx="0.6"/></g>
  <circle cx="382" cy="639" r="1.5" fill="#333"/>
  <rect x="281.4" y="641.2" width="115" height="3.4" fill="#dcdfe8"/>
  <g fill="#8a8a9a"><rect x="283" y="642" width="20" height="1.5"/><rect x="340" y="642" width="18" height="1.5"/></g>
  </g><rect x="328" y="648.3" width="4" height="4" fill="#b0b0b0"/>
  <rect x="333" y="649.3" width="17" height="2.5" fill="#8e8e8e"/>
</g>
<g id="plc">
  <!-- base body -->
  <polygon points="120,786 143,774 262,776 275,784.5 275,866 268,874 120,874" fill="#dedede"/>
  <!-- top cover surface -->
  <polygon points="143,774 262,776 275,784.5 251,797.5 140,797.5 132,790" fill="#ebebeb"/>
  <polygon points="145,776 160,773.5 158,779 146,783" fill="#d2d2d2"/>
  <rect x="145" y="784" width="105" height="6" fill="#f2f2f2"/>
  <rect x="150" y="790" width="100" height="1.2" fill="#d0d0d0"/>
  <!-- left lower part -->
  <rect x="120" y="786" width="20" height="88" fill="#d9d9d9"/>
  <rect x="120" y="786" width="20" height="3" fill="#e9e9e9"/>
  <!-- cover front face -->
  <rect x="140" y="797.5" width="115" height="15" fill="#dadada"/>
  <rect x="140" y="797.5" width="115" height="1.5" fill="#c8c8c8"/>
  <!-- bottom -->
  <rect x="120" y="858" width="135" height="16" fill="#e3e3e3"/>
  <rect x="140" y="858" width="56" height="1" fill="#cfcfcf"/>
  <!-- black panel -->
  <rect x="140" y="812.5" width="56" height="45.5" fill="#171719"/>
  <rect x="141.5" y="818" width="21" height="3" fill="#d8d8d8" opacity="0.85"/>
  <rect x="182" y="819" width="11" height="3" fill="#9a9a9a"/>
  <rect x="143" y="846" width="13" height="2" fill="#c8c8c8"/>
  <!-- IO panel -->
  <rect x="196" y="819" width="41" height="42" fill="#ececec"/>
  <g fill="#555"><circle cx="202.0" cy="825.0" r="0.7"/><circle cx="205.1" cy="825.0" r="0.7"/><circle cx="208.2" cy="825.0" r="0.7"/><circle cx="211.3" cy="825.0" r="0.7"/><circle cx="214.4" cy="825.0" r="0.7"/><circle cx="217.5" cy="825.0" r="0.7"/><circle cx="220.6" cy="825.0" r="0.7"/><circle cx="223.7" cy="825.0" r="0.7"/><circle cx="226.8" cy="825.0" r="0.7"/><circle cx="202.0" cy="828.4" r="0.7"/><circle cx="205.1" cy="828.4" r="0.7"/><circle cx="208.2" cy="828.4" r="0.7"/><circle cx="211.3" cy="828.4" r="0.7"/><circle cx="214.4" cy="828.4" r="0.7"/><circle cx="217.5" cy="828.4" r="0.7"/><circle cx="220.6" cy="828.4" r="0.7"/><circle cx="223.7" cy="828.4" r="0.7"/><circle cx="226.8" cy="828.4" r="0.7"/></g>
  <g fill="#555"><circle cx="202.0" cy="849.0" r="0.7"/><circle cx="205.1" cy="849.0" r="0.7"/><circle cx="208.2" cy="849.0" r="0.7"/><circle cx="211.3" cy="849.0" r="0.7"/><circle cx="214.4" cy="849.0" r="0.7"/><circle cx="217.5" cy="849.0" r="0.7"/><circle cx="220.6" cy="849.0" r="0.7"/><circle cx="223.7" cy="849.0" r="0.7"/><circle cx="226.8" cy="849.0" r="0.7"/><circle cx="202.0" cy="852.1" r="0.7"/><circle cx="205.1" cy="852.1" r="0.7"/><circle cx="208.2" cy="852.1" r="0.7"/><circle cx="211.3" cy="852.1" r="0.7"/><circle cx="214.4" cy="852.1" r="0.7"/><circle cx="217.5" cy="852.1" r="0.7"/><circle cx="220.6" cy="852.1" r="0.7"/><circle cx="223.7" cy="852.1" r="0.7"/><circle cx="226.8" cy="852.1" r="0.7"/><circle cx="202.0" cy="855.2" r="0.7"/><circle cx="205.1" cy="855.2" r="0.7"/><circle cx="208.2" cy="855.2" r="0.7"/><circle cx="211.3" cy="855.2" r="0.7"/><circle cx="214.4" cy="855.2" r="0.7"/><circle cx="217.5" cy="855.2" r="0.7"/><circle cx="220.6" cy="855.2" r="0.7"/><circle cx="223.7" cy="855.2" r="0.7"/><circle cx="226.8" cy="855.2" r="0.7"/></g>
  <g fill="#333"><rect x="222.5" y="834.5" width="4.5" height="1.8"/><rect x="222.5" y="839.5" width="4.5" height="1.8"/><rect x="222.5" y="844" width="4.5" height="1.8"/><rect x="222.5" y="848.5" width="4.5" height="1.8"/></g>
  <rect x="236.8" y="822" width="18.5" height="41" fill="#e4e4e4"/>
  <rect x="236.8" y="822" width="0.8" height="41" fill="#c8c8c8"/>
  <rect x="253" y="830" width="1.5" height="25" fill="#999"/>
  <!-- right side block -->
  <polygon points="255,784.5 275,784.5 275,866 255,864" fill="#d6d6d6"/>
  <rect x="262" y="802" width="12" height="52" fill="#cdcdcd"/>
  <rect x="263" y="803" width="10" height="2" fill="#bcbcbc"/>
  <rect x="263" y="850" width="10" height="2" fill="#bcbcbc"/>
  <rect x="255" y="784.5" width="1" height="80" fill="#c4c4c4"/>
  <!-- COM1 port -->
  <rect x="124.5" y="855" width="4" height="5" fill="#444"/>
  <circle cx="135.2" cy="858.5" r="5.2" fill="#263434"/>
  <circle cx="135.2" cy="858.5" r="3" fill="#4a5a5a"/>
</g>
<g fill="none" stroke="#1b9752" stroke-width="6" stroke-linejoin="round">
  <polyline points="188,403 79.8,403 79.8,615" stroke-linecap="butt"/>
  <polyline points="196,426.5 367.9,426.5 367.9,568" stroke-linecap="butt"/>
</g>
<circle cx="188" cy="403" r="3" fill="#1b9752"/>
<circle cx="196" cy="426.5" r="3" fill="#1b9752"/>
<g fill="none" stroke="#2070ae" stroke-width="6.4">
  <polyline points="150,623.8 282,623.8"/>
  <polyline points="135.2,632 135.2,857"/>
</g>
</svg>
<div class="t" style="left:625px;top:15.5px;font-size:16.5px;color:#1f616e;transform:scaleX(1.055)">GX Works</div>
<div class="t" style="left:640px;top:60px;font-size:13px;color:#161616;-webkit-text-stroke:0.4px #161616;">MELSOFT</div>
<div class="t" style="left:632px;top:94px;font-size:13.4px;color:#2c4c52;font-weight:normal;-webkit-text-stroke:0.12px #2c4c52;">三菱编程软件</div>
<div class="t" style="left:298px;top:173.5px;font-size:17px;color:#111;">4G网络</div>
<div class="t" style="left:84.5px;top:434px;font-size:17.6px;color:#8c2236;transform:scaleX(0.955)">LAN1</div>
<div class="t" style="left:375px;top:480.5px;font-size:17.6px;color:#8c2236;transform:scaleX(0.995)">LAN2</div>
<div class="t" style="left:189.5px;top:636px;font-size:17.4px;color:#8c2236;transform:scaleX(1.02)">COM2</div>
<div class="t" style="left:46.5px;top:778px;font-size:18px;color:#8a1e34;transform:scaleX(0.94)">COM1</div>
<div class="t" style="left:6.5px;top:640.5px;font-size:18px;color:#28617c;transform:scaleX(0.985)">GMD-FX</div>
<div class="t" style="left:0px;top:661px;font-size:16.5px;color:#28617c;transform:scaleX(0.98)">通讯桥接器</div>
<div class="t" style="left:309px;top:663px;font-size:16.5px;color:#3272aa;">触摸屏</div>
<div class="t" style="left:251px;top:683.5px;font-size:17px;color:#296c84;transform:scaleX(0.985)">GOT、MCGS、威纶、</div>
<div class="t" style="left:253px;top:703px;font-size:17px;color:#296c84;">proface、步科等人机</div>
</body></html>
